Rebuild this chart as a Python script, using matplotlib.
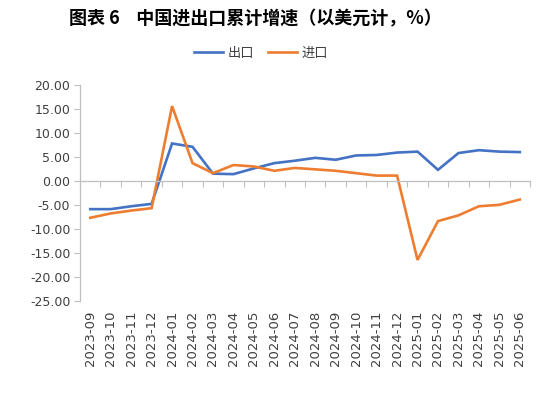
import numpy as np
import matplotlib
matplotlib.use("Agg")
from matplotlib import pyplot as plt

plt.rcParams['font.family'] = ['DejaVu Sans', 'Noto Sans CJK SC']

# 月份
months = ['2023-09', '2023-10', '2023-11', '2023-12', '2024-01', '2024-02',
          '2024-03', '2024-04', '2024-05', '2024-06', '2024-07', '2024-08',
          '2024-09', '2024-10', '2024-11', '2024-12', '2025-01', '2025-02',
          '2025-03', '2025-04', '2025-05', '2025-06']
# 出口累计增速（%）
exports = [-5.9, -5.9, -5.3, -4.8, 7.8, 7.1, 1.5, 1.4, 2.6, 3.7, 4.2, 4.8,
           4.4, 5.3, 5.4, 5.9, 6.1, 2.3, 5.8, 6.4, 6.1, 6.0]
# 进口累计增速（%）
imports = [-7.7, -6.8, -6.2, -5.7, 15.6, 3.7, 1.6, 3.3, 3.0, 2.1, 2.7, 2.4,
           2.1, 1.6, 1.1, 1.1, -16.5, -8.4, -7.2, -5.3, -5.0, -3.9]
yticks = [20, 15, 10, 5, 0, -5, -10, -15, -20, -25]

grey = '#BFBFBF'
textc = '#404040'

fig = plt.figure(figsize=(5.58, 3.94), dpi=100)
ax = fig.add_axes([0.1434, 0.2368, 0.8065, 0.5475])

x = np.arange(len(months))
ax.plot(x, exports, color='#4472C4', lw=1.9, label='出口', solid_joinstyle='miter')
ax.plot(x, imports, color='#ED7D31', lw=1.9, label='进口', solid_joinstyle='miter')

ax.set_xlim(-0.5, len(months) - 0.5)
ax.set_ylim(-25, 20)
ax.set_yticks(yticks)
ax.set_yticklabels([f'{v:.2f}' for v in yticks], fontsize=9, color=textc)
ax.tick_params(axis='y', length=4, color=grey, width=0.8, pad=3)

for s in ['top', 'right']:
    ax.spines[s].set_visible(False)
ax.spines['left'].set_color(grey)
ax.spines['left'].set_linewidth(0.9)
ax.spines['bottom'].set_position(('data', 0))
ax.spines['bottom'].set_color(grey)
ax.spines['bottom'].set_linewidth(0.9)
ax.set_xticks(np.arange(len(months) + 1) - 0.5)
ax.set_xticklabels([])
ax.tick_params(axis='x', length=4, color=grey, width=0.8, direction='out')

sec = ax.secondary_xaxis(0)
sec.set_xticks(x)
sec.set_xticklabels(months, rotation=90, fontsize=9.5, color=textc)
sec.tick_params(axis='x', length=0, pad=7)
sec.spines['bottom'].set_visible(False)

fig.text(0.457, 0.952, '图表 6    中国进出口累计增速（以美元计，%）', ha='center', va='center',
         fontsize=13, fontweight='bold', family=['Noto Sans CJK SC', 'DejaVu Sans'])

leg = fig.legend(loc='center', bbox_to_anchor=(0.468, 0.865), ncol=2, frameon=False,
                 handlelength=2.2, handletextpad=0.3, columnspacing=1.1,
                 prop={'family': 'Noto Sans CJK SC', 'size': 9.5})
for t in leg.get_texts():
    t.set_color(textc)

fig.savefig('out.png', dpi=100)
